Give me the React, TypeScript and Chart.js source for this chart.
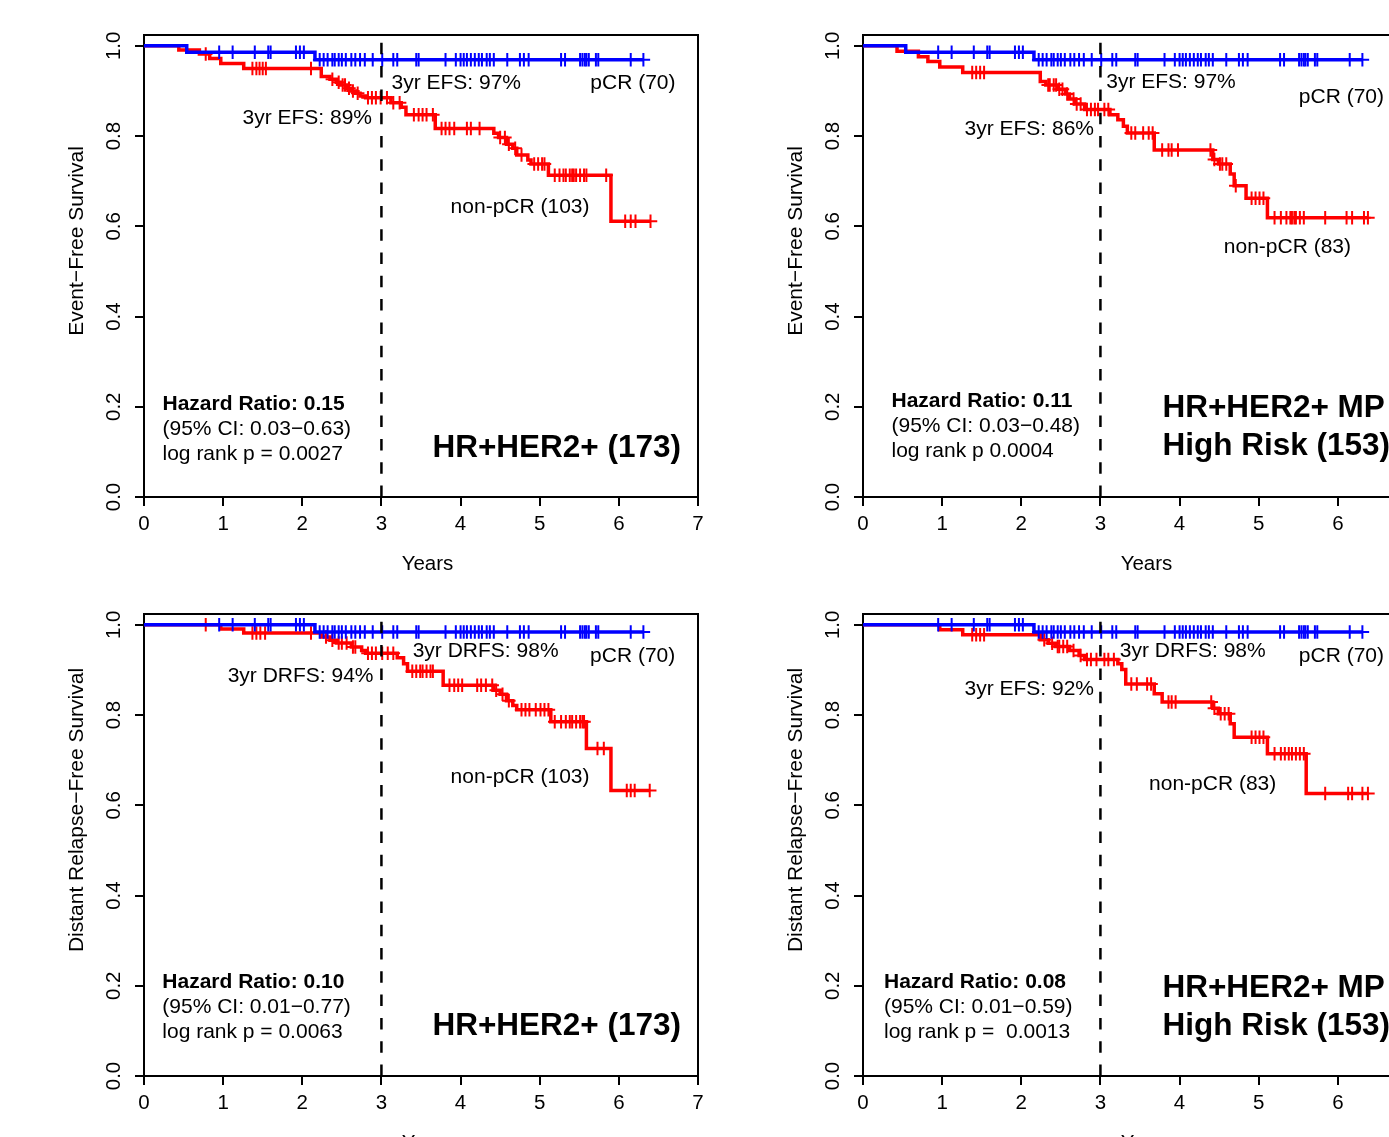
import React, { useEffect, useRef } from "react";
import { Chart, registerables } from "chart.js";

Chart.register(...registerables);

const FONT = '"Liberation Sans", Arimo, Arial, Helvetica, sans-serif';

// ---------- axes ----------
const X_TICKS = [0, 1, 2, 3, 4, 5, 6, 7];
const Y_TICKS = [0, 0.2, 0.4, 0.6, 0.8, 1.0];
const Y_TICK_LABELS = ["0.0", "0.2", "0.4", "0.6", "0.8", "1.0"];
const LANDMARK_YEAR = 3;

// ---------- pCR group (70), shared by all panels ----------
const pcrEfsEventTimes = [0.54, 2.16];
const pcrEfsEventSurv = [0.986, 0.969];
const pcrDrfsEventTimes = [2.16];
const pcrDrfsEventSurv = [0.984];
const pcrCensorTimes = [
  0.95, 1.12, 1.4, 1.57, 1.6, 1.92, 1.97, 2.02, 2.22, 2.27, 2.32, 2.38, 2.41, 2.46,
  2.5, 2.55, 2.62, 2.67, 2.73, 2.79, 2.89, 3.01, 3.15, 3.2, 3.44, 3.47, 3.81, 3.94,
  4.0, 4.04, 4.08, 4.13, 4.18, 4.23, 4.27, 4.33, 4.37, 4.42, 4.59, 4.75, 4.8, 4.86,
  5.27, 5.32, 5.51, 5.54, 5.57, 5.59, 5.62, 5.71, 5.74, 6.15, 6.31,
];

// ---------- non-pCR HR+HER2+ (103), EFS ----------
const np173EfsTimes = [
  0.44, 0.7, 0.83, 0.97, 1.26, 2.24, 2.35, 2.43, 2.48, 2.56, 2.62, 2.67, 2.73, 2.8,
  3.12, 3.25, 3.31, 3.68, 4.42, 4.48, 4.58, 4.66, 4.71, 4.85, 4.89, 5.11, 5.9,
];
const np173EfsSurv = [
  0.991, 0.982, 0.972, 0.961, 0.95, 0.932, 0.926, 0.919, 0.913, 0.906, 0.9, 0.895,
  0.889, 0.885, 0.874, 0.864, 0.847, 0.817, 0.806, 0.797, 0.782, 0.773, 0.758,
  0.747, 0.738, 0.713, 0.611,
];
const np173EfsCensor = [
  0.78, 1.37, 1.42, 1.46, 1.5, 1.54, 2.11, 2.38, 2.46, 2.51, 2.54, 2.59, 2.64, 2.7,
  2.83, 2.88, 2.93, 2.99, 3.07, 3.15, 3.23, 3.41, 3.47, 3.52, 3.57, 3.65, 3.76, 3.81,
  3.86, 3.92, 4.08, 4.13, 4.24, 4.5, 4.56, 4.61, 4.69, 4.77, 4.93, 4.98, 5.03, 5.06,
  5.19, 5.25, 5.3, 5.33, 5.38, 5.41, 5.43, 5.46, 5.51, 5.56, 5.59, 5.84, 6.08, 6.15,
  6.21, 6.4,
];

// ---------- non-pCR MP High Risk (83), EFS ----------
const np153EfsTimes = [
  0.43, 0.7, 0.82, 0.97, 1.26, 2.24, 2.31, 2.46, 2.56, 2.61, 2.68, 2.8, 3.12, 3.22,
  3.29, 3.34, 3.68, 4.42, 4.49, 4.64, 4.69, 4.84, 5.11,
];
const np153EfsSurv = [
  0.988, 0.976, 0.965, 0.953, 0.941, 0.921, 0.913, 0.904, 0.893, 0.882, 0.871,
  0.859, 0.847, 0.836, 0.822, 0.807, 0.769, 0.748, 0.738, 0.716, 0.69, 0.662, 0.619,
];
const np153EfsCensor = [
  1.38, 1.43, 1.48, 1.53, 2.34, 2.36, 2.41, 2.44, 2.48, 2.52, 2.58, 2.66, 2.7, 2.75,
  2.83, 2.88, 2.93, 2.97, 3.05, 3.1, 3.39, 3.44, 3.54, 3.61, 3.66, 3.78, 3.86, 3.9,
  3.98, 4.39, 4.44, 4.51, 4.54, 4.59, 4.71, 4.91, 4.96, 5.01, 5.06, 5.2, 5.28, 5.35,
  5.4, 5.42, 5.45, 5.47, 5.52, 5.57, 5.84, 6.11, 6.18, 6.33, 6.38,
];

// ---------- non-pCR HR+HER2+ (103), DRFS ----------
const np173DrfsTimes = [
  0.97, 1.26, 2.24, 2.35, 2.43, 2.62, 2.75, 2.8, 3.2, 3.28, 3.33, 3.78, 4.42, 4.5,
  4.58, 4.66, 4.71, 5.14, 5.59, 5.9,
];
const np173DrfsSurv = [
  0.991, 0.982, 0.973, 0.966, 0.96, 0.951, 0.943, 0.937, 0.927, 0.914, 0.897, 0.866,
  0.855, 0.846, 0.832, 0.821, 0.812, 0.785, 0.726, 0.633,
];
const np173DrfsCensor = [
  0.78, 1.37, 1.42, 1.47, 1.53, 2.11, 2.3, 2.38, 2.46, 2.5, 2.56, 2.64, 2.67, 2.83,
  2.88, 2.93, 3.01, 3.08, 3.15, 3.39, 3.44, 3.49, 3.52, 3.57, 3.62, 3.65, 3.86, 3.92,
  3.97, 4.02, 4.21, 4.26, 4.32, 4.4, 4.45, 4.53, 4.61, 4.77, 4.82, 4.87, 4.95, 5.01,
  5.06, 5.11, 5.19, 5.27, 5.33, 5.38, 5.41, 5.46, 5.51, 5.54, 5.56, 5.73, 5.81, 6.1,
  6.15, 6.2, 6.39,
];

// ---------- non-pCR MP High Risk (83), DRFS ----------
const np153DrfsTimes = [
  0.97, 1.26, 2.24, 2.34, 2.43, 2.61, 2.73, 2.8, 3.22, 3.27, 3.32, 3.68, 3.78, 4.42,
  4.49, 4.64, 4.69, 5.11, 5.6,
];
const np153DrfsSurv = [
  0.989, 0.978, 0.967, 0.959, 0.952, 0.943, 0.932, 0.923, 0.914, 0.901, 0.869,
  0.847, 0.829, 0.815, 0.803, 0.781, 0.751, 0.714, 0.626,
];
const np153DrfsCensor = [
  1.38, 1.43, 1.48, 1.53, 2.29, 2.39, 2.46, 2.48, 2.53, 2.58, 2.66, 2.75, 2.83, 2.88,
  2.95, 3.05, 3.1, 3.17, 3.39, 3.46, 3.59, 3.64, 3.86, 3.9, 3.95, 4.4, 4.44, 4.52,
  4.57, 4.62, 4.91, 4.96, 5.01, 5.06, 5.2, 5.28, 5.33, 5.38, 5.42, 5.47, 5.52, 5.57,
  5.84, 6.13, 6.18, 6.31, 6.38,
];

// ---------- annotation texts (anchored in data units) ----------
type Note = { t: string; x: number; y: number; align: "left" | "right"; bold?: boolean; size?: number };

const notesTL: Note[] = [
  { t: "3yr EFS: 97%", x: 3.127, y: 0.904, align: "left" },
  { t: "pCR (70)", x: 6.716, y: 0.904, align: "right" },
  { t: "3yr EFS: 89%", x: 2.881, y: 0.827, align: "right" },
  { t: "non-pCR (103)", x: 5.629, y: 0.629, align: "right" },
  { t: "Hazard Ratio: 0.15", x: 0.234, y: 0.193, align: "left", bold: true },
  { t: "(95% CI: 0.03\u22120.63)", x: 0.234, y: 0.137, align: "left" },
  { t: "log rank p = 0.0027", x: 0.234, y: 0.082, align: "left" },
  { t: "HR+HER2+ (173)", x: 6.785, y: 0.0887, align: "right", bold: true, size: 31.5 },
];
const notesTR: Note[] = [
  { t: "3yr EFS: 97%", x: 3.073, y: 0.9065, align: "left" },
  { t: "pCR (70)", x: 6.583, y: 0.874, align: "right" },
  { t: "3yr EFS: 86%", x: 2.919, y: 0.802, align: "right" },
  { t: "non-pCR (83)", x: 6.166, y: 0.541, align: "right" },
  { t: "Hazard Ratio: 0.11", x: 0.36, y: 0.2, align: "left", bold: true },
  { t: "(95% CI: 0.03\u22120.48)", x: 0.36, y: 0.1447, align: "left" },
  { t: "log rank p 0.0004", x: 0.36, y: 0.0893, align: "left" },
  { t: "HR+HER2+ MP", x: 3.784, y: 0.178, align: "left", bold: true, size: 31.5 },
  { t: "High Risk (153)", x: 3.784, y: 0.0931, align: "left", bold: true, size: 31.5 },
];
const notesBL: Note[] = [
  { t: "3yr DRFS: 98%", x: 3.395, y: 0.928, align: "left" },
  { t: "pCR (70)", x: 6.713, y: 0.918, align: "right" },
  { t: "3yr DRFS: 94%", x: 2.9, y: 0.874, align: "right" },
  { t: "non-pCR (103)", x: 5.629, y: 0.65, align: "right" },
  { t: "Hazard Ratio: 0.10", x: 0.231, y: 0.1944, align: "left", bold: true },
  { t: "(95% CI: 0.01\u22120.77)", x: 0.231, y: 0.139, align: "left" },
  { t: "log rank p = 0.0063", x: 0.231, y: 0.0836, align: "left" },
  { t: "HR+HER2+ (173)", x: 6.785, y: 0.0909, align: "right", bold: true, size: 31.5 },
];
const notesBR: Note[] = [
  { t: "3yr DRFS: 98%", x: 3.245, y: 0.928, align: "left" },
  { t: "pCR (70)", x: 6.583, y: 0.918, align: "right" },
  { t: "3yr EFS: 92%", x: 2.919, y: 0.8445, align: "right" },
  { t: "non-pCR (83)", x: 5.222, y: 0.634, align: "right" },
  { t: "Hazard Ratio: 0.08", x: 0.265, y: 0.1944, align: "left", bold: true },
  { t: "(95% CI: 0.01\u22120.59)", x: 0.265, y: 0.139, align: "left" },
  { t: "log rank p =  0.0013", x: 0.265, y: 0.0836, align: "left" },
  { t: "HR+HER2+ MP", x: 3.784, y: 0.1758, align: "left", bold: true, size: 31.5 },
  { t: "High Risk (153)", x: 3.784, y: 0.0909, align: "left", bold: true, size: 31.5 },
];

// ---------- layout ----------
const PANEL_W = 719;
const PANEL_H = 579;
const Y_MAX = 1.024;
const RED = "#ff0000";
const BLUE = "#0000ff";

type Curve = { times: number[]; surv: number[]; censor: number[] };
type PanelSpec = {
  left: number;
  top: number;
  clipW: number;
  clipH: number;
  yTitle: string;
  yTitleCenter: number;
  red: Curve;
  blue: Curve;
  notes: Note[];
};

function survAt(c: Curve, t: number) {
  let s = 1;
  for (let i = 0; i < c.times.length; i++) if (c.times[i] <= t) s = c.surv[i];
  return s;
}

function stepPoints(c: Curve) {
  const pts = [{ x: 0, y: 1 }];
  c.times.forEach((t, i) => pts.push({ x: t, y: c.surv[i] }));
  const end = Math.max(...c.censor, ...c.times);
  pts.push({ x: end, y: c.surv[c.surv.length - 1] });
  return pts;
}

function censorPoints(c: Curve) {
  return c.censor.map((t) => ({ x: t, y: survAt(c, t) }));
}

function makePlugin(spec: PanelSpec) {
  return {
    id: "rStyle",
    beforeDatasetsDraw(chart: any) {
      const { ctx, chartArea: a } = chart;
      ctx.save();
      ctx.strokeStyle = "#000";
      ctx.lineWidth = 2;
      ctx.strokeRect(a.left, a.top, a.right - a.left, a.bottom - a.top);
      ctx.restore();
    },
    afterDraw(chart: any) {
      const ctx = chart.ctx;
      const xs = chart.scales.x;
      const ys = chart.scales.y;
      ctx.save();
      ctx.fillStyle = "#000";
      ctx.textBaseline = "alphabetic";
      // y tick labels (rotated like R's las=0)
      ctx.font = `20.5px ${FONT}`;
      ctx.textAlign = "center";
      Y_TICKS.forEach((v, i) => {
        ctx.save();
        ctx.translate(120, ys.getPixelForValue(v));
        ctx.rotate(-Math.PI / 2);
        ctx.fillText(Y_TICK_LABELS[i], 0, 0);
        ctx.restore();
      });
      // y title
      ctx.font = `21px ${FONT}`;
      ctx.save();
      ctx.translate(83, spec.yTitleCenter);
      ctx.rotate(-Math.PI / 2);
      ctx.fillText(spec.yTitle, 0, 0);
      ctx.restore();
      // x title
      ctx.font = `20.5px ${FONT}`;
      ctx.fillText("Years", 427.5, 569.5);
      // notes
      spec.notes.forEach((n) => {
        ctx.font = `${n.bold ? "bold " : ""}${n.size || 21}px ${FONT}`;
        ctx.textAlign = n.align;
        ctx.fillText(n.t, xs.getPixelForValue(n.x), ys.getPixelForValue(n.y));
      });
      ctx.restore();
    },
  };
}

function buildConfig(spec: PanelSpec): any {
  return {
    type: "scatter",
    data: {
      datasets: [
        {
          data: [
            { x: LANDMARK_YEAR, y: 0 },
            { x: LANDMARK_YEAR, y: Y_MAX },
          ],
          showLine: true,
          borderColor: "#000",
          borderWidth: 2.5,
          borderDash: [11.5, 11.8],
          pointRadius: 0,
          order: 0,
        },
        {
          data: censorPoints(spec.blue),
          showLine: false,
          pointStyle: "cross",
          pointRadius: 6.75,
          pointBorderWidth: 2,
          pointBorderColor: BLUE,
          borderColor: BLUE,
          order: 1,
        },
        {
          data: stepPoints(spec.blue),
          showLine: true,
          stepped: true,
          borderColor: BLUE,
          borderWidth: 3.5,
          pointRadius: 0,
          order: 2,
        },
        {
          data: censorPoints(spec.red),
          showLine: false,
          pointStyle: "cross",
          pointRadius: 6.75,
          pointBorderWidth: 2,
          pointBorderColor: RED,
          borderColor: RED,
          order: 3,
        },
        {
          data: stepPoints(spec.red),
          showLine: true,
          stepped: true,
          borderColor: RED,
          borderWidth: 3.5,
          pointRadius: 0,
          order: 4,
        },
      ],
    },
    options: {
      animation: false,
      responsive: false,
      devicePixelRatio: 1,
      events: [],
      layout: { padding: { left: 0, right: PANEL_W - 698, top: 35, bottom: 0 } },
      plugins: { legend: { display: false }, tooltip: { enabled: false } },
      scales: {
        x: {
          type: "linear",
          min: 0,
          max: 7,
          afterBuildTicks: (s: any) => {
            s.ticks = X_TICKS.map((v) => ({ value: v }));
          },
          afterFit: (s: any) => {
            s.height = PANEL_H - 497;
          },
          grid: {
            display: true,
            drawOnChartArea: false,
            drawTicks: true,
            tickLength: 9,
            color: "#000",
            lineWidth: 2,
          },
          border: { display: true, color: "#000", width: 2 },
          ticks: {
            color: "#000",
            font: { family: FONT, size: 20.5 },
            padding: 6,
            autoSkip: false,
            maxRotation: 0,
            callback: (v: any) => String(v),
          },
        },
        y: {
          type: "linear",
          min: 0,
          max: Y_MAX,
          afterBuildTicks: (s: any) => {
            s.ticks = Y_TICKS.map((v) => ({ value: v }));
          },
          afterFit: (s: any) => {
            s.width = 144;
          },
          grid: {
            display: true,
            drawOnChartArea: false,
            drawTicks: true,
            tickLength: 9,
            color: "#000",
            lineWidth: 2,
          },
          border: { display: true, color: "#000", width: 2 },
          ticks: { display: false },
        },
      },
    },
    plugins: [makePlugin(spec)],
  };
}

const pcrEfs: Curve = { times: pcrEfsEventTimes, surv: pcrEfsEventSurv, censor: pcrCensorTimes };
const pcrDrfs: Curve = { times: pcrDrfsEventTimes, surv: pcrDrfsEventSurv, censor: pcrCensorTimes };

const PANELS: PanelSpec[] = [
  {
    left: 0, top: 0, clipW: PANEL_W, clipH: PANEL_H,
    yTitle: "Event\u2212Free Survival", yTitleCenter: 241,
    red: { times: np173EfsTimes, surv: np173EfsSurv, censor: np173EfsCensor },
    blue: pcrEfs, notes: notesTL,
  },
  {
    left: PANEL_W, top: 0, clipW: 1389 - PANEL_W, clipH: PANEL_H,
    yTitle: "Event\u2212Free Survival", yTitleCenter: 241,
    red: { times: np153EfsTimes, surv: np153EfsSurv, censor: np153EfsCensor },
    blue: pcrEfs, notes: notesTR,
  },
  {
    left: 0, top: PANEL_H, clipW: PANEL_W, clipH: 1137 - PANEL_H,
    yTitle: "Distant Relapse\u2212Free Survival", yTitleCenter: 231,
    red: { times: np173DrfsTimes, surv: np173DrfsSurv, censor: np173DrfsCensor },
    blue: pcrDrfs, notes: notesBL,
  },
  {
    left: PANEL_W, top: PANEL_H, clipW: 1389 - PANEL_W, clipH: 1137 - PANEL_H,
    yTitle: "Distant Relapse\u2212Free Survival", yTitleCenter: 231,
    red: { times: np153DrfsTimes, surv: np153DrfsSurv, censor: np153DrfsCensor },
    blue: pcrDrfs, notes: notesBR,
  },
];

function Panel({ spec }: { spec: PanelSpec }) {
  const ref = useRef<HTMLCanvasElement | null>(null);
  useEffect(() => {
    if (!ref.current) return;
    const chart = new Chart(ref.current, buildConfig(spec));
    return () => chart.destroy();
  }, [spec]);
  return (
    <div
      style={{
        position: "absolute",
        left: spec.left,
        top: spec.top,
        width: spec.clipW,
        height: spec.clipH,
        overflow: "hidden",
      }}
    >
      <canvas
        ref={ref}
        width={PANEL_W}
        height={PANEL_H}
        style={{ display: "block", width: PANEL_W, height: PANEL_H }}
      />
    </div>
  );
}

export default function App() {
  return (
    <div
      style={{
        position: "absolute",
        left: 0,
        top: 0,
        width: 1389,
        height: 1137,
        overflow: "hidden",
        background: "#fff",
      }}
    >
      {PANELS.map((p, i) => (
        <Panel key={i} spec={p} />
      ))}
    </div>
  );
}
